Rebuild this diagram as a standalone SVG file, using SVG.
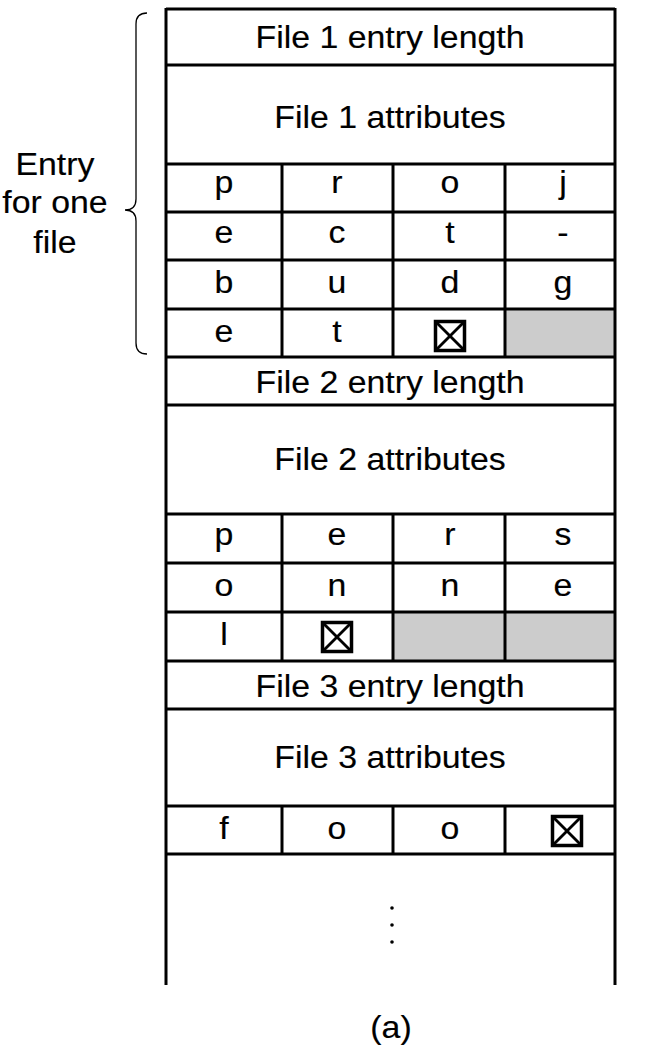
<svg xmlns="http://www.w3.org/2000/svg" width="645" height="1050" viewBox="0 0 645 1050">
<style>
.ln{stroke:#000;stroke-width:3;fill:none}
.t{font-family:"Liberation Sans",Arial,sans-serif;font-size:30.5px;fill:#000;stroke:#000;stroke-width:0.15;text-anchor:middle;transform-box:fill-box;transform-origin:center;transform:scaleX(1.11)}
.gray{fill:#cccccc;stroke:none}
.xb{fill:none;stroke:#000;stroke-width:3.5}
.xl{stroke:#000;stroke-width:2.8}
.brace{fill:none;stroke:#000;stroke-width:1.3}
</style>
<defs>
<g id="boxx"><rect class="xb" x="-14.5" y="-14.5" width="29" height="29"/><line class="xl" x1="-13.5" y1="-13.5" x2="13.5" y2="13.5"/><line class="xl" x1="13.5" y1="-13.5" x2="-13.5" y2="13.5"/></g>
</defs>
<g id="gray-cells">
<rect class="gray" x="505" y="309" width="110" height="48"/>
<rect class="gray" x="393" y="612" width="222" height="49"/>
</g>
<g id="grid">
<line class="ln" x1="166" y1="8" x2="166" y2="985"/>
<line class="ln" x1="615" y1="8" x2="615" y2="985"/>
<line class="ln" x1="166" y1="9" x2="615" y2="9"/>
<line class="ln" x1="166" y1="65" x2="615" y2="65"/>
<line class="ln" x1="166" y1="164" x2="615" y2="164"/>
<line class="ln" x1="166" y1="212" x2="615" y2="212"/>
<line class="ln" x1="166" y1="260" x2="615" y2="260"/>
<line class="ln" x1="166" y1="309" x2="615" y2="309"/>
<line class="ln" x1="166" y1="357" x2="615" y2="357"/>
<line class="ln" x1="166" y1="405" x2="615" y2="405"/>
<line class="ln" x1="166" y1="514" x2="615" y2="514"/>
<line class="ln" x1="166" y1="563" x2="615" y2="563"/>
<line class="ln" x1="166" y1="612" x2="615" y2="612"/>
<line class="ln" x1="166" y1="661" x2="615" y2="661"/>
<line class="ln" x1="166" y1="709" x2="615" y2="709"/>
<line class="ln" x1="166" y1="806" x2="615" y2="806"/>
<line class="ln" x1="166" y1="854" x2="615" y2="854"/>
<line class="ln" x1="282" y1="164" x2="282" y2="357"/>
<line class="ln" x1="393" y1="164" x2="393" y2="357"/>
<line class="ln" x1="505" y1="164" x2="505" y2="357"/>
<line class="ln" x1="282" y1="514" x2="282" y2="661"/>
<line class="ln" x1="393" y1="514" x2="393" y2="661"/>
<line class="ln" x1="505" y1="514" x2="505" y2="661"/>
<line class="ln" x1="282" y1="806" x2="282" y2="854"/>
<line class="ln" x1="393" y1="806" x2="393" y2="854"/>
<line class="ln" x1="505" y1="806" x2="505" y2="854"/>
</g>
<g id="file1">
<text class="t" x="390" y="48">File 1 entry length</text>
<text class="t" x="390" y="128">File 1 attributes</text>
<text class="t" x="224" y="193">p</text><text class="t" x="337" y="193">r</text><text class="t" x="450" y="193">o</text><text class="t" x="563" y="193">j</text>
<text class="t" x="224" y="243">e</text><text class="t" x="337" y="243">c</text><text class="t" x="450" y="243">t</text><text class="t" x="563" y="243">-</text>
<text class="t" x="224" y="293">b</text><text class="t" x="337" y="293">u</text><text class="t" x="450" y="293">d</text><text class="t" x="563" y="293">g</text>
<text class="t" x="224" y="342">e</text><text class="t" x="337" y="342">t</text>
<use href="#boxx" x="450" y="336"/>
</g>
<g id="file2">
<text class="t" x="390" y="393">File 2 entry length</text>
<text class="t" x="390" y="470">File 2 attributes</text>
<text class="t" x="224" y="545">p</text><text class="t" x="337" y="545">e</text><text class="t" x="450" y="545">r</text><text class="t" x="563" y="545">s</text>
<text class="t" x="224" y="596">o</text><text class="t" x="337" y="596">n</text><text class="t" x="450" y="596">n</text><text class="t" x="563" y="596">e</text>
<text class="t" x="224" y="645">l</text>
<use href="#boxx" x="337" y="637"/>
</g>
<g id="file3">
<text class="t" x="390" y="697">File 3 entry length</text>
<text class="t" x="390" y="768">File 3 attributes</text>
<text class="t" x="224" y="839">f</text><text class="t" x="337" y="839">o</text><text class="t" x="450" y="839">o</text>
<use href="#boxx" x="567" y="831"/>
</g>
<g id="ellipsis">
<circle cx="392" cy="908" r="1.8"/><circle cx="392" cy="925" r="1.8"/><circle cx="392" cy="942" r="1.8"/>
</g>
<g id="label">
<path class="brace" d="M147,13 Q136,13 136,24 L136,199 Q136,210 125,210 Q136,210 136,221 L136,343 Q136,354 147,354"/>
<text class="t" x="55" y="175">Entry</text>
<text class="t" x="55" y="213">for one</text>
<text class="t" x="55" y="253">file</text>
</g>
<text class="t" x="391" y="1038">(a)</text>
</svg>
